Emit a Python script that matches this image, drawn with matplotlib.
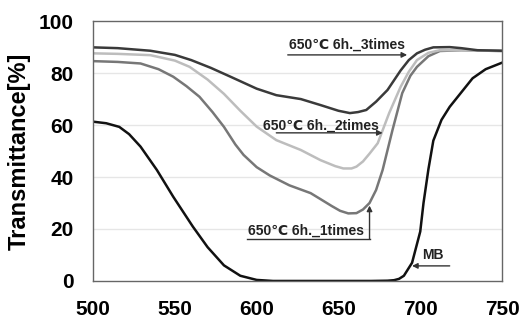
import matplotlib.pyplot as plt

plt.rcParams['font.family'] = ['Liberation Sans', 'DejaVu Sans']

# Wavelength [nm] and transmittance [%]
wl_3 = [500, 515, 535, 550, 560, 572, 584, 600, 612, 627, 639, 650, 657, 662, 667,
        673, 680, 688, 693, 698, 703, 708, 718, 725, 735, 750]
t_3 = [89.9, 89.6, 88.6, 87.0, 85.0, 82.0, 78.6, 74.0, 71.5, 70.0, 67.7, 65.5, 64.6, 65.0, 65.8,
       69.0, 73.5, 81.0, 85.0, 87.6, 89.0, 89.9, 90.0, 89.6, 88.8, 88.6]

wl_2 = [500, 515, 535, 550, 559, 570, 580, 590, 600, 612, 627, 639, 648, 653, 658, 661,
        665, 669, 674, 681, 688, 693, 698, 705, 712, 725, 750]
t_2 = [87.6, 87.4, 86.9, 84.8, 82.4, 77.5, 72.0, 65.5, 59.4, 54.2, 50.4, 46.5, 44.2, 43.3, 43.3, 44.0,
       46.0, 49.0, 53.0, 64.6, 74.7, 80.5, 85.0, 87.8, 88.8, 88.8, 88.5]

wl_1 = [500, 515, 529, 540, 549, 557, 565, 573, 580, 587, 592, 600, 608, 620, 633, 639, 646,
        651, 656, 661, 665, 669, 673, 677, 683, 689, 694, 698, 705, 712, 725, 750]
t_1 = [84.6, 84.3, 83.7, 81.5, 78.6, 75.0, 70.9, 65.0, 59.3, 52.5, 48.5, 43.8, 40.6, 36.8, 33.8, 31.5, 28.8,
       27.0, 26.0, 26.1, 27.5, 30.0, 35.0, 42.7, 58.0, 72.3, 79.0, 82.4, 86.5, 88.5, 88.8, 88.5]

wl_mb = [500, 508, 516, 522, 529, 539, 549, 561, 570, 580, 590, 600, 610, 640, 670,
         680, 684, 687, 690, 695, 700, 702, 705, 708, 713, 718, 725, 732, 740, 750]
t_mb = [61.3, 60.7, 59.3, 56.5, 51.7, 42.7, 32.4, 20.9, 13.0, 6.0, 2.0, 0.4, 0.0, 0.0, 0.0,
        0.1, 0.3, 0.8, 2.0, 7.0, 19.0, 30.0, 43.0, 54.0, 62.0, 67.0, 72.5, 78.0, 81.5, 84.0]

fig = plt.figure(figsize=(5.29, 3.2), dpi=100)
ax = fig.add_axes([0.176, 0.122, 0.773, 0.812])

ax.plot(wl_mb, t_mb, color='#111111', lw=1.8, solid_joinstyle='round')
ax.plot(wl_1, t_1, color='#777777', lw=1.8, solid_joinstyle='round')
ax.plot(wl_2, t_2, color='#bdbdbd', lw=1.8, solid_joinstyle='round')
ax.plot(wl_3, t_3, color='#3a3a3a', lw=1.8, solid_joinstyle='round')

ax.set_xlim(500, 750)
ax.set_ylim(0, 100)
ax.set_xticks([500, 550, 600, 650, 700, 750])
ax.set_yticks([0, 20, 40, 60, 80, 100])
ax.tick_params(length=0, labelsize=15, pad=14)
for lab in ax.get_xticklabels() + ax.get_yticklabels():
    lab.set_fontweight('bold')
ax.set_ylabel('Transmittance[%]', fontsize=17, fontweight='bold', labelpad=6)

for y in [20, 40, 60, 80]:
    ax.axhline(y, color='#e6e6e6', lw=1.0, zorder=0)
for s in ax.spines.values():
    s.set_color('#666666')
    s.set_linewidth(1.0)

# labels with arrows
fs = 10
arr = dict(arrowstyle='-|>', color='#333333', lw=1.0, mutation_scale=8,
           shrinkA=0, shrinkB=0)
ax.text(655, 90.8, '650℃ 6h._3times', fontsize=fs, fontweight='bold',
        ha='center', va='center', color='#222222')
ax.annotate('', xy=(692, 87), xytext=(619, 87), arrowprops=arr)

ax.text(639, 59.6, '650℃ 6h._2times', fontsize=fs, fontweight='bold',
        ha='center', va='center', color='#222222')
ax.annotate('', xy=(677, 57), xytext=(612, 57), arrowprops=arr)

ax.text(630, 19.5, '650℃ 6h._1times', fontsize=fs, fontweight='bold',
        ha='center', va='center', color='#222222')
ax.plot([594, 669], [16.0, 16.0], color='#333333', lw=1.0)
ax.annotate('', xy=(669, 29), xytext=(669, 16.0), arrowprops=arr)

ax.text(708, 10, 'MB', fontsize=fs, fontweight='bold',
        ha='center', va='center', color='#222222')
ax.annotate('', xy=(695, 5.8), xytext=(718, 5.8), arrowprops=arr)

fig.savefig('out.png', dpi=100)
